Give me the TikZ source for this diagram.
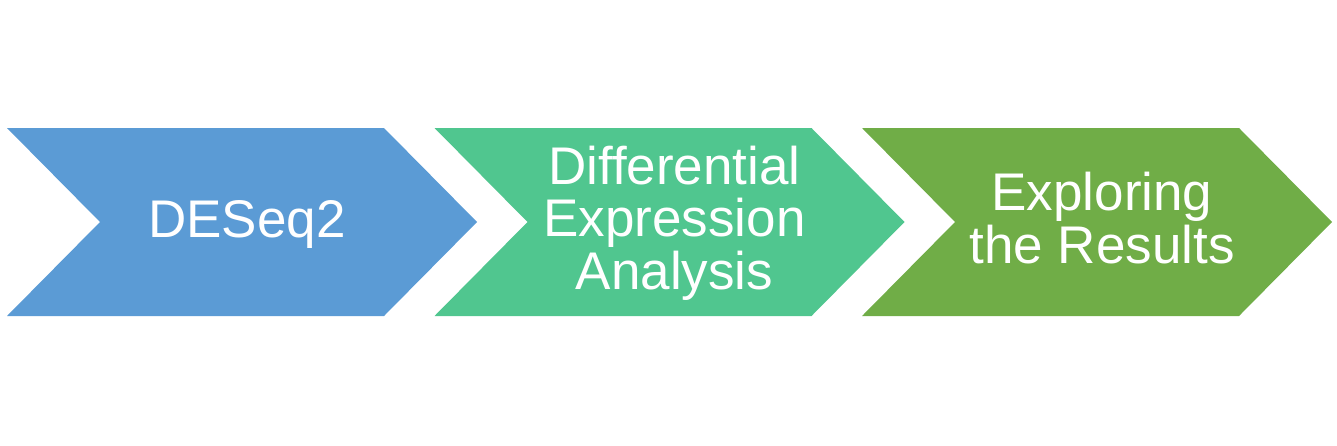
\documentclass[tikz,border=0pt]{standalone}
\usepackage{fontspec}
\setmainfont{Liberation Sans}
\definecolor{stepblue}{HTML}{5B9BD5}
\definecolor{stepteal}{HTML}{50C68F}
\definecolor{stepgreen}{HTML}{70AD47}
\tikzset{chevron/.style={fill=#1, draw=none},
	steplabel/.style={text=white, align=center,
		font=\fontsize{26.5}{26.25}\selectfont},
}

\begin{document}
\begin{tikzpicture}[x=0.5pt,y=-0.5pt]
		\path [use as bounding box] (0,0) rectangle (1337,445);
		%\draw[very thin, gray!50] (0,0) grid[step=100] (1337,445);
		\foreach \i/\col/\ty/\txt in {0/stepblue/224/DESeq2,
			1/stepteal/223/{Differential\\Expression\\Analysis},
			2/stepgreen/218/{Exploring\\the Results}}{
			\begin{scope}[xshift=\i*213.75pt]
				\fill[chevron=\col] (7,128) -- (384,128) -- (477,222) -- (384,316)
				-- (7,316) -- (100,222) -- cycle;
				\node[steplabel] (t\i) at (247,\ty) {\txt};
			\end{scope}
		}
	\end{tikzpicture}
\end{document}
